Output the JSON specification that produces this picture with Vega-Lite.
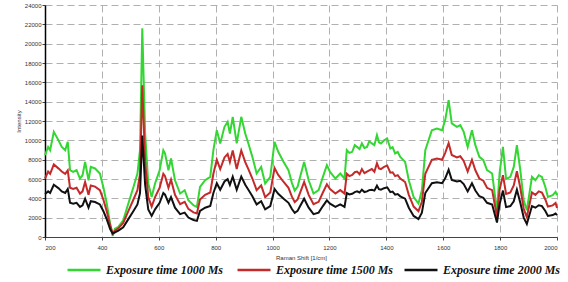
{
  "$schema": "https://vega.github.io/schema/vega-lite/v6.json",
  "width": 512,
  "height": 232,
  "autosize": {"type": "none"},
  "padding": {"left": 45, "top": 5, "right": 11, "bottom": 45},
  "background": "white",
  "config": {"view": {"stroke": null}},
  "data": {"values": [
    {"x":200,"g":8460,"r":6050,"b":4450},
    {"x":211,"g":9320,"r":6770,"b":4720},
    {"x":218,"g":8980,"r":6540,"b":4550},
    {"x":231,"g":10880,"r":7500,"b":5400},
    {"x":247,"g":10020,"r":7100,"b":5060},
    {"x":259,"g":9320,"r":6770,"b":4720},
    {"x":271,"g":8980,"r":6540,"b":4550},
    {"x":280,"g":9840,"r":6900,"b":4970},
    {"x":288,"g":6910,"r":5090,"b":3540},
    {"x":299,"g":6730,"r":4960,"b":3450},
    {"x":311,"g":6910,"r":5090,"b":3540},
    {"x":323,"g":6050,"r":4490,"b":3110},
    {"x":332,"g":6390,"r":4720,"b":3280},
    {"x":341,"g":7770,"r":5690,"b":3960},
    {"x":353,"g":5870,"r":4360,"b":3030},
    {"x":361,"g":7250,"r":5330,"b":3700},
    {"x":376,"g":7090,"r":5210,"b":3620},
    {"x":393,"g":6570,"r":4850,"b":3370},
    {"x":405,"g":5180,"r":3880,"b":2690},
    {"x":417,"g":3460,"r":2670,"b":1850},
    {"x":429,"g":1390,"r":1220,"b":830},
    {"x":438,"g":100,"r":350,"b":350},
    {"x":446,"g":870,"r":660,"b":480},
    {"x":458,"g":1040,"r":900,"b":660},
    {"x":475,"g":1730,"r":1460,"b":1000},
    {"x":493,"g":3460,"r":2670,"b":1850},
    {"x":511,"g":5180,"r":3880,"b":2690},
    {"x":525,"g":6570,"r":4850,"b":3370},
    {"x":534,"g":8980,"r":6540,"b":4550},
    {"x":542,"g":21600,"r":15700,"b":10500},
    {"x":552,"g":10740,"r":7770,"b":5410},
    {"x":563,"g":5530,"r":4120,"b":2860},
    {"x":575,"g":4140,"r":3150,"b":2180},
    {"x":587,"g":5530,"r":4120,"b":2860},
    {"x":603,"g":6910,"r":5090,"b":3540},
    {"x":616,"g":8980,"r":6540,"b":4550},
    {"x":622,"g":8640,"r":6300,"b":4380},
    {"x":634,"g":6910,"r":5090,"b":3540},
    {"x":643,"g":8120,"r":5930,"b":4130},
    {"x":657,"g":5870,"r":4360,"b":3030},
    {"x":675,"g":4500,"r":3400,"b":2360},
    {"x":691,"g":4840,"r":3640,"b":2520},
    {"x":704,"g":3800,"r":2910,"b":2010},
    {"x":722,"g":3280,"r":2550,"b":1760},
    {"x":734,"g":3110,"r":2430,"b":1670},
    {"x":745,"g":5180,"r":3880,"b":2690},
    {"x":763,"g":5870,"r":4360,"b":3030},
    {"x":781,"g":6220,"r":4600,"b":3200},
    {"x":792,"g":8980,"r":6540,"b":4550},
    {"x":804,"g":11050,"r":7990,"b":5560},
    {"x":816,"g":9680,"r":7030,"b":4890},
    {"x":831,"g":11400,"r":8230,"b":5740},
    {"x":842,"g":11910,"r":8590,"b":5990},
    {"x":850,"g":10710,"r":7750,"b":5400},
    {"x":860,"g":12430,"r":8950,"b":6240},
    {"x":874,"g":9680,"r":7030,"b":4890},
    {"x":890,"g":12430,"r":8950,"b":6240},
    {"x":904,"g":10710,"r":7750,"b":5400},
    {"x":915,"g":9680,"r":7030,"b":4890},
    {"x":929,"g":8290,"r":6050,"b":4210},
    {"x":944,"g":6570,"r":4850,"b":3370},
    {"x":960,"g":7250,"r":5330,"b":3700},
    {"x":974,"g":5530,"r":4120,"b":2860},
    {"x":992,"g":6220,"r":4600,"b":3200},
    {"x":1007,"g":9840,"r":7140,"b":4970},
    {"x":1020,"g":8810,"r":6420,"b":4470},
    {"x":1039,"g":7770,"r":5690,"b":3960},
    {"x":1056,"g":6910,"r":5090,"b":3540},
    {"x":1068,"g":5600,"r":4170,"b":2890},
    {"x":1078,"g":4800,"r":3610,"b":2500},
    {"x":1088,"g":5200,"r":3890,"b":2700},
    {"x":1097,"g":6220,"r":4600,"b":3200},
    {"x":1111,"g":7770,"r":5690,"b":3960},
    {"x":1127,"g":5870,"r":4360,"b":3030},
    {"x":1144,"g":4500,"r":3400,"b":2360},
    {"x":1162,"g":4840,"r":3640,"b":2520},
    {"x":1177,"g":6220,"r":4600,"b":3200},
    {"x":1191,"g":7430,"r":5450,"b":3790},
    {"x":1202,"g":6730,"r":4960,"b":3450},
    {"x":1221,"g":6050,"r":4490,"b":3110},
    {"x":1238,"g":6570,"r":4850,"b":3370},
    {"x":1253,"g":6050,"r":4490,"b":3110},
    {"x":1261,"g":8980,"r":6540,"b":4550},
    {"x":1270,"g":8700,"r":6300,"b":4400},
    {"x":1280,"g":8810,"r":6420,"b":4470},
    {"x":1289,"g":9500,"r":6700,"b":4650},
    {"x":1297,"g":9320,"r":6770,"b":4720},
    {"x":1306,"g":9100,"r":6500,"b":4600},
    {"x":1314,"g":9680,"r":7030,"b":4890},
    {"x":1323,"g":9200,"r":6600,"b":4650},
    {"x":1332,"g":9320,"r":6770,"b":4720},
    {"x":1340,"g":9900,"r":6900,"b":4850},
    {"x":1349,"g":9680,"r":7030,"b":4890},
    {"x":1358,"g":9500,"r":6750,"b":4800},
    {"x":1367,"g":10540,"r":7630,"b":5310},
    {"x":1374,"g":9800,"r":7100,"b":4950},
    {"x":1381,"g":9680,"r":7030,"b":4890},
    {"x":1392,"g":10000,"r":7250,"b":5050},
    {"x":1403,"g":10190,"r":7380,"b":5140},
    {"x":1414,"g":9160,"r":6660,"b":4640},
    {"x":1422,"g":9300,"r":6700,"b":4700},
    {"x":1431,"g":8640,"r":6300,"b":4380},
    {"x":1440,"g":8800,"r":6400,"b":4450},
    {"x":1449,"g":8290,"r":6050,"b":4210},
    {"x":1466,"g":7770,"r":5690,"b":3960},
    {"x":1479,"g":5870,"r":4360,"b":3030},
    {"x":1496,"g":4140,"r":3150,"b":2180},
    {"x":1513,"g":3460,"r":2670,"b":1850},
    {"x":1525,"g":4840,"r":3640,"b":2520},
    {"x":1537,"g":8980,"r":6540,"b":4550},
    {"x":1560,"g":11050,"r":7990,"b":5560},
    {"x":1578,"g":11230,"r":8110,"b":5650},
    {"x":1596,"g":11050,"r":7990,"b":5560},
    {"x":1607,"g":12090,"r":8710,"b":6070},
    {"x":1619,"g":14160,"r":9700,"b":6950},
    {"x":1630,"g":11750,"r":8480,"b":5910},
    {"x":1648,"g":11400,"r":8230,"b":5740},
    {"x":1660,"g":11570,"r":8350,"b":5820},
    {"x":1672,"g":10880,"r":7870,"b":5480},
    {"x":1686,"g":9320,"r":6770,"b":4720},
    {"x":1701,"g":11050,"r":7990,"b":5560},
    {"x":1713,"g":9500,"r":6900,"b":4810},
    {"x":1727,"g":8290,"r":6050,"b":4210},
    {"x":1741,"g":7950,"r":5820,"b":4050},
    {"x":1754,"g":6910,"r":5090,"b":3540},
    {"x":1772,"g":6570,"r":4850,"b":3370},
    {"x":1789,"g":2600,"r":2100,"b":1500},
    {"x":1798,"g":6570,"r":4850,"b":3370},
    {"x":1810,"g":9320,"r":6400,"b":4800},
    {"x":1821,"g":6000,"r":4450,"b":3090},
    {"x":1836,"g":6220,"r":4600,"b":3200},
    {"x":1848,"g":7250,"r":5330,"b":3700},
    {"x":1859,"g":9500,"r":6800,"b":4900},
    {"x":1871,"g":6910,"r":5090,"b":3540},
    {"x":1883,"g":3800,"r":2910,"b":2010},
    {"x":1894,"g":2770,"r":2050,"b":1350},
    {"x":1912,"g":6220,"r":4600,"b":3200},
    {"x":1924,"g":5870,"r":4360,"b":3030},
    {"x":1936,"g":6390,"r":4720,"b":3280},
    {"x":1947,"g":6220,"r":4600,"b":3200},
    {"x":1959,"g":5180,"r":3880,"b":2690},
    {"x":1968,"g":4140,"r":3150,"b":2180},
    {"x":1985,"g":4320,"r":3270,"b":2270},
    {"x":1995,"g":4660,"r":3510,"b":2430},
    {"x":2000,"g":4320,"r":3000,"b":2270}
  ]},
  "transform": [{"fold": ["g", "r", "b"], "as": ["series", "intensity"]}],
  "mark": {"type": "line", "strokeWidth": 2, "interpolate": "linear"},
  "encoding": {
    "x": {
      "field": "x", "type": "quantitative",
      "scale": {"domain": [200, 2000], "nice": false, "zero": false},
      "axis": {
        "values": [200,400,600,800,1000,1200,1400,1600,1800,2000],
        "format": "d",
        "title": "Raman Shift [1/cm]",
        "titleFont": "Liberation Sans", "titleFontSize": 6, "titleFontWeight": "normal", "titleColor": "#333",
        "titlePadding": 4,
        "labelFont": "Liberation Sans", "labelFontSize": 6, "labelColor": "#333", "labelPadding": 4,
        "domainColor": "#444", "domainWidth": 1,
        "tickColor": "#444", "tickSize": 3,
        "grid": true, "gridColor": "#b0b0b0", "gridDash": [7, 4], "gridWidth": 1
      }
    },
    "y": {
      "field": "intensity", "type": "quantitative",
      "scale": {"domain": [0, 24000], "nice": false},
      "axis": {
        "values": [0,2000,4000,6000,8000,10000,12000,14000,16000,18000,20000,22000,24000],
        "format": "d",
        "title": "Intensity",
        "titleFont": "Liberation Sans", "titleFontSize": 6, "titleFontWeight": "normal", "titleColor": "#333",
        "titlePadding": 3,
        "labelFont": "Liberation Sans", "labelFontSize": 6, "labelColor": "#333", "labelPadding": 1,
        "domainColor": "#000", "domainWidth": 1.5,
        "tickColor": "#444", "tickSize": 3,
        "grid": true, "gridColor": "#b0b0b0", "gridDash": [7, 4], "gridWidth": 1
      }
    },
    "color": {
      "field": "series", "type": "nominal",
      "scale": {"domain": ["g", "r", "b"], "range": ["#33d633", "#c42a2a", "#111111"]},
      "legend": {
        "title": null,
        "orient": "none",
        "legendX": 21,
        "legendY": 247,
        "direction": "horizontal",
        "columns": 3,
        "symbolType": "stroke",
        "symbolSize": 1089,
        "symbolStrokeWidth": 2.5,
        "labelOffset": 4,
        "columnPadding": 5,
        "labelFont": "Liberation Serif",
        "labelFontSize": 12,
        "labelFontStyle": "italic",
        "labelFontWeight": "bold",
        "labelColor": "#111",
        "labelLimit": 300,
        "labelExpr": "datum.value == 'g' ? 'Exposure time  1000 Ms' : datum.value == 'r' ? 'Exposure time 1500 Ms' : 'Exposure time 2000 Ms'"
      }
    }
  }
}
